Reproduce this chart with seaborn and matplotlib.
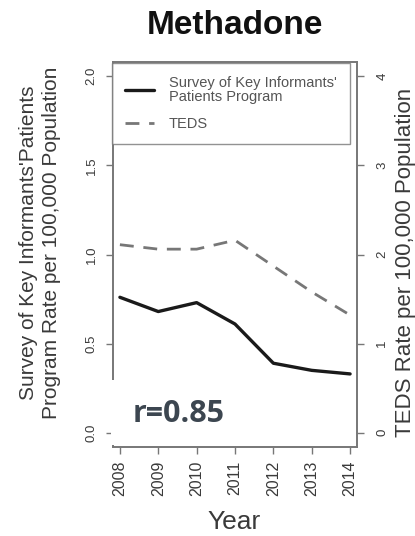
import matplotlib
matplotlib.use("Agg")
import matplotlib.pyplot as plt
import seaborn as sns
import pandas as pd
from matplotlib.lines import Line2D
from matplotlib.patches import Rectangle

years = [2008, 2009, 2010, 2011, 2012, 2013, 2014]
survey_rate = [0.76, 0.68, 0.73, 0.61, 0.39, 0.35, 0.33]
teds_rate = [2.11, 2.06, 2.06, 2.16, 1.87, 1.58, 1.32]
left_ticks = [0.0, 0.5, 1.0, 1.5, 2.0]
right_ticks = [0, 1, 2, 3, 4]

sns.set_style("ticks")
plt.rcParams["font.family"] = ["Liberation Sans", "DejaVu Sans"]

txt = "#3a3a3a"
W, H = 415, 536
df = pd.DataFrame({"Year": years, "Survey": survey_rate, "TEDS": teds_rate})

fig = plt.figure(figsize=(W / 100, H / 100), dpi=100)
ax = fig.add_axes([113 / W, 1 - 447 / H, 244 / W, 385 / H])
ax2 = ax.twinx()

sns.lineplot(data=df, x="Year", y="Survey", ax=ax, color="#1a1a1a", lw=2.4)
sns.lineplot(data=df, x="Year", y="TEDS", ax=ax2, color="#777777", lw=2.0,
             linestyle=(0, (5, 3.5)))

ax.set_xlim(2007.82, 2014.18)
ax.set_ylim(-0.08, 2.08)
ax2.set_ylim(-0.16, 4.16)
ax.set_xticks(years)
ax.set_xticklabels([str(y) for y in years], rotation=90, fontsize=11.5, color=txt)
ax.set_yticks(left_ticks)
ax.set_yticklabels([f"{v:.1f}" for v in left_ticks], rotation=90, va="center",
                   fontsize=9.5, color=txt)
ax2.set_yticks(right_ticks)
ax2.set_yticklabels([str(v) for v in right_ticks], rotation=90, va="center",
                    fontsize=9.5, color=txt)

for a in (ax, ax2):
    for s in a.spines.values():
        s.set_visible(True)
        s.set_color("#777777")
        s.set_linewidth(1.2)
    a.tick_params(colors="#777777", labelcolor=txt, length=5, width=1.0)
ax.tick_params(axis="x", pad=5)
ax.tick_params(axis="y", pad=6)
ax2.tick_params(axis="y", pad=9)
ax.set_xlabel("")
ax.set_ylabel("")
ax2.set_ylabel("")

fig.text(234 / W, 1 - 522 / H, "Year", ha="center", va="center", fontsize=19,
         color=txt)
fig.text(40 / W, 1 - 243 / H,
         "Survey of Key Informants'Patients\nProgram Rate per 100,000 Population",
         ha="center", va="center", rotation=90, fontsize=15, color=txt,
         linespacing=1.3)
fig.text(405 / W, 1 - 262 / H, "TEDS Rate per 100,000 Population", ha="center",
         va="center", rotation=90, fontsize=16, color=txt)

fig.text(235 / W, 1 - 26 / H, "Methadone", ha="center", va="center", fontsize=24,
         fontweight="bold", color="#111111")

handles = [Line2D([], [], color="#1a1a1a", lw=2.4),
           Line2D([], [], color="#777777", lw=2.0, linestyle=(0, (5, 3.5)))]
leg = ax2.legend(handles, ["Survey of Key Informants'\nPatients Program", "TEDS"],
                 loc="upper left", bbox_to_anchor=(-0.004, 0.997), fontsize=10.5,
                 frameon=True, fancybox=False, handlelength=2.0,
                 borderpad=0.9, labelspacing=0.9, handletextpad=1.0,
                 borderaxespad=0.0)
leg.get_frame().set_edgecolor("#777777")
leg.get_frame().set_linewidth(1.0)
for t in leg.get_texts():
    t.set_color("#555555")
    t.set_linespacing(0.95)

fig.add_artist(Rectangle((111 / W, 1 - 445 / H), 140 / W, 65 / H,
                         transform=fig.transFigure, facecolor="white",
                         edgecolor="none", zorder=5))
fig.text(133 / W, 1 - 414 / H, "r=0.85", ha="left", va="center", fontsize=22,
         fontweight="bold", color="#3c4650", family=["Open Sans", "DejaVu Sans"],
         zorder=10)

fig.savefig("out.png", dpi=100)
